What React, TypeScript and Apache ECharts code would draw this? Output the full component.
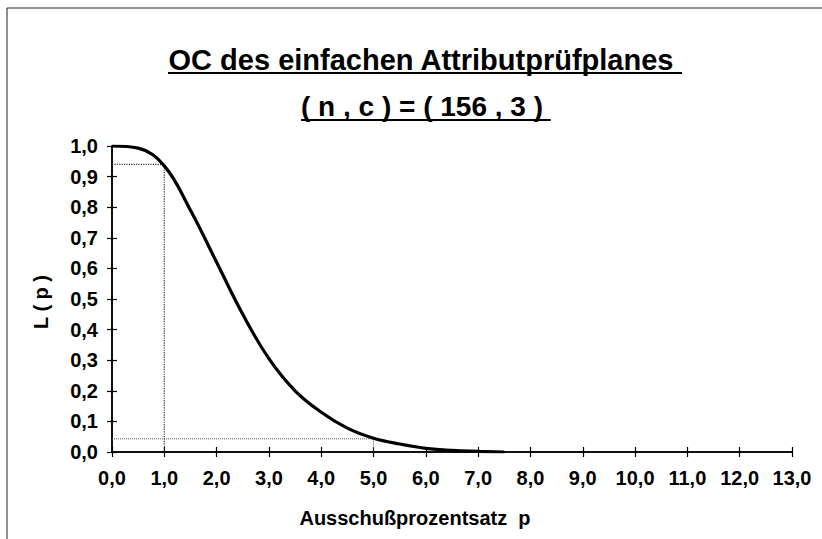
import React, { useEffect, useRef } from "react";
import * as echarts from "echarts";

// Data
const pValues = [0, 0.5, 1.0, 1.5, 2.0, 2.5, 3.0, 3.5, 4.0, 4.5, 5.0, 5.5, 6.0, 6.5, 7.0, 7.5];
const lValues = [1.0, 0.993, 0.935, 0.79, 0.62, 0.45, 0.305, 0.2, 0.13, 0.078, 0.045, 0.026, 0.012, 0.005, 0.002, 0.0];

// Reference (dotted) guide lines: [p, L(p)]
const guideA = [[0, 0.94], [1.0, 0.94], [1.0, 0]];
const guideB = [[0, 0.043], [5.0, 0.043], [5.0, 0]];

const titleLine1 = "OC des einfachen Attributprüfplanes";
const titleLine2 = "( n , c ) = ( 156 , 3 )";
const xAxisName = "Ausschußprozentsatz  p";
const yAxisName = "L ( p )";

const FONT = '"Liberation Sans", Arial, sans-serif';

function measure(text: string, font: string): number {
  const c = document.createElement("canvas");
  const ctx = c.getContext("2d");
  if (!ctx) return text.length * 14;
  ctx.font = font;
  return ctx.measureText(text).width;
}

const fmt = (v: number) => v.toFixed(1).replace(".", ",");

export default function App() {
  const ref = useRef<HTMLDivElement>(null);

  useEffect(() => {
    if (!ref.current) return;
    const chart = echarts.init(ref.current, undefined, { renderer: "svg" });

    const f1 = `bold 29px ${FONT}`;
    const f2 = `bold 28px ${FONT}`;
    const cx1 = 421;
    const cx2 = 422;
    const w1 = measure(titleLine1, f1);
    const w1s = measure(titleLine1 + " ", f1);
    const w2 = measure(titleLine2, f2);
    const w2s = measure(titleLine2 + " ", f2);

    const axisCommon = {
      axisLine: { show: true, lineStyle: { color: "#000", width: 1.5 } },
      splitLine: { show: false },
    };

    const option: any = {
      animation: false,
      backgroundColor: "#fff",
      grid: { left: 112, right: 30, top: 146, bottom: 87, containLabel: false },
      xAxis: [
        {
          type: "value",
          min: 0,
          max: 13,
          interval: 1,
          position: "bottom",
          ...axisCommon,
          axisTick: { show: true, length: 5, lineStyle: { color: "#000", width: 1.2 } },
          axisLabel: {
            formatter: fmt,
            margin: 16,
            color: "#000",
            fontFamily: FONT,
            fontWeight: "bold",
            fontSize: 20,
          },
        },
        {
          type: "value",
          min: 0,
          max: 13,
          interval: 1,
          position: "bottom",
          offset: 0,
          ...axisCommon,
          axisTick: { show: true, inside: true, length: 5, lineStyle: { color: "#000", width: 1.2 } },
          axisLabel: { show: false },
        },
      ],
      yAxis: [
        {
          type: "value",
          min: 0,
          max: 1,
          interval: 0.1,
          position: "left",
          ...axisCommon,
          axisTick: { show: true, length: 5, lineStyle: { color: "#000", width: 1.2 } },
          axisLabel: {
            formatter: fmt,
            margin: 14,
            color: "#000",
            fontFamily: FONT,
            fontWeight: "bold",
            fontSize: 20,
          },
        },
        {
          type: "value",
          min: 0,
          max: 1,
          interval: 0.1,
          position: "left",
          offset: 0,
          ...axisCommon,
          axisTick: { show: true, inside: true, length: 5, lineStyle: { color: "#000", width: 1.2 } },
          axisLabel: { show: false },
        },
      ],
      series: [
        {
          type: "line",
          data: guideA,
          symbol: "none",
          silent: true,
          lineStyle: { color: "#333", width: 1.2, type: "dotted" },
          z: 1,
        },
        {
          type: "line",
          data: guideB,
          symbol: "none",
          silent: true,
          lineStyle: { color: "#555", width: 1, type: "dotted" },
          z: 1,
        },
        {
          type: "line",
          data: pValues.map((p, i) => [p, lValues[i]]),
          symbol: "none",
          smooth: 0.4,
          lineStyle: { color: "#000", width: 3.2 },
          z: 3,
        },
      ],
      graphic: [
        {
          type: "rect",
          silent: true,
          shape: { x: 7, y: 8, width: 900, height: 700 },
          style: { fill: "none", stroke: "#222", lineWidth: 1 },
        },
        {
          type: "text",
          x: cx1,
          y: 60,
          style: {
            text: titleLine1,
            font: f1,
            align: "center",
            verticalAlign: "middle",
            fill: "#000",
          },
        },
        {
          type: "line",
          shape: { x1: cx1 - w1 / 2, y1: 73, x2: cx1 - w1 / 2 + w1s, y2: 73 },
          style: { stroke: "#000", lineWidth: 2 },
        },
        {
          type: "text",
          x: cx2,
          y: 106,
          style: {
            text: titleLine2,
            font: f2,
            align: "center",
            verticalAlign: "middle",
            fill: "#000",
          },
        },
        {
          type: "line",
          shape: { x1: cx2 - w2 / 2, y1: 120, x2: cx2 - w2 / 2 + w2s, y2: 120 },
          style: { stroke: "#000", lineWidth: 2 },
        },
        {
          type: "text",
          x: 41,
          y: 302,
          rotation: Math.PI / 2,
          style: {
            text: yAxisName,
            font: `bold 20px ${FONT}`,
            align: "center",
            verticalAlign: "middle",
            fill: "#000",
          },
        },
        {
          type: "text",
          x: 415,
          y: 518,
          style: {
            text: xAxisName,
            font: `bold 20px ${FONT}`,
            align: "center",
            verticalAlign: "middle",
            fill: "#000",
          },
        },
      ],
    };

    chart.setOption(option);
    return () => chart.dispose();
  }, []);

  return (
    <div
      ref={ref}
      style={{ position: "absolute", left: 0, top: 0, width: 822, height: 539, background: "#fff" }}
    />
  );
}
